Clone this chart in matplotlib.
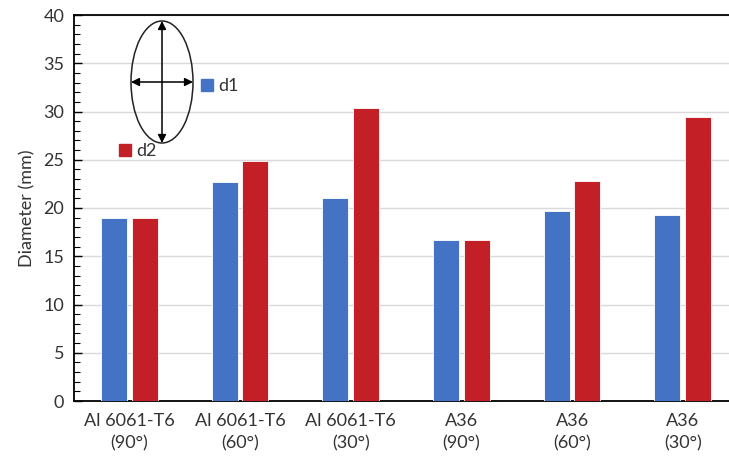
import matplotlib
matplotlib.use("Agg")
import matplotlib.pyplot as plt
from matplotlib.patches import Ellipse, Patch
from matplotlib.ticker import MultipleLocator
import numpy as np

categories = ["Al 6061-T6\n(90°)", "Al 6061-T6\n(60°)", "Al 6061-T6\n(30°)",
              "A36\n(90°)", "A36\n(60°)", "A36\n(30°)"]
d1 = [19.0, 22.7, 21.0, 16.7, 19.7, 19.3]
d2 = [19.0, 24.9, 30.4, 16.7, 22.8, 29.4]
yticks = [0, 5, 10, 15, 20, 25, 30, 35, 40]

plt.rcParams['font.family'] = ['Lato', 'DejaVu Sans']
txt = '#333333'
blue = '#4472C4'
red = '#C21F26'
fs = 13

fig = plt.figure(figsize=(7.29, 4.70), dpi=100)
ax = fig.add_axes([74/729, 1-401/470, 664/729, 386/470])

x = np.arange(len(categories))
w = 0.235
off = 0.14
ax.bar(x - off, d1, w, color=blue, edgecolor='white', linewidth=0.6, zorder=3)
ax.bar(x + off, d2, w, color=red, edgecolor='white', linewidth=0.6, zorder=3)

ax.set_xlim(-0.5, len(categories) - 0.5)
ax.set_ylim(0, 40)
ax.set_yticks(yticks)
ax.yaxis.set_minor_locator(MultipleLocator(1))
ax.set_xticks(x)
ax.set_xticklabels(categories, fontsize=fs, color=txt, linespacing=1.45)
ax.tick_params(axis='y', which='major', direction='in', length=6, width=1, labelsize=fs, labelcolor=txt, pad=7)
ax.tick_params(axis='y', which='minor', direction='in', length=4, width=0.8)
ax.tick_params(axis='x', length=0, pad=9)
ax.grid(axis='y', color='#d9d9d9', linewidth=1, zorder=0)
ax.set_axisbelow(True)
for s in ['left', 'bottom', 'top']:
    ax.spines[s].set_color('black')
    ax.spines[s].set_linewidth(1.3)
ax.spines['right'].set_visible(False)
ax.set_ylabel("Diameter (mm)", fontsize=fs, color=txt, labelpad=6)

# ellipse schematic
ax_w, ax_h = 664, 386
def ax_pt(px, py):
    return ((px - 74) / ax_w, (401 - py) / ax_h)
cx, cy = ax_pt(162, 82)
ell = Ellipse((cx, cy), 62/ax_w, 122/ax_h, transform=ax.transAxes,
              fill=False, edgecolor='#222222', linewidth=1.1, zorder=5)
ax.add_patch(ell)
ax.annotate('', xy=ax_pt(162, 21), xytext=ax_pt(162, 143), xycoords='axes fraction',
            textcoords='axes fraction',
            arrowprops=dict(arrowstyle='<|-|>', color='black', lw=1.1, mutation_scale=12,
                            shrinkA=0, shrinkB=0), zorder=6)
ax.annotate('', xy=ax_pt(131, 82), xytext=ax_pt(193, 82), xycoords='axes fraction',
            textcoords='axes fraction',
            arrowprops=dict(arrowstyle='<|-|>', color='black', lw=1.1, mutation_scale=12,
                            shrinkA=0, shrinkB=0), zorder=6)

leg1 = ax.legend(handles=[Patch(color=blue, label='d1')], loc='center left',
                 bbox_to_anchor=ax_pt(192, 86), frameon=False, fontsize=fs,
                 handlelength=0.65, handleheight=0.65, handletextpad=0.3, borderpad=0,
                 labelcolor=txt)
ax.add_artist(leg1)
ax.legend(handles=[Patch(color=red, label='d2')], loc='center left',
          bbox_to_anchor=ax_pt(110, 151), frameon=False, fontsize=fs,
          handlelength=0.65, handleheight=0.65, handletextpad=0.3, borderpad=0,
          labelcolor=txt)

fig.savefig("out.png", dpi=100)
